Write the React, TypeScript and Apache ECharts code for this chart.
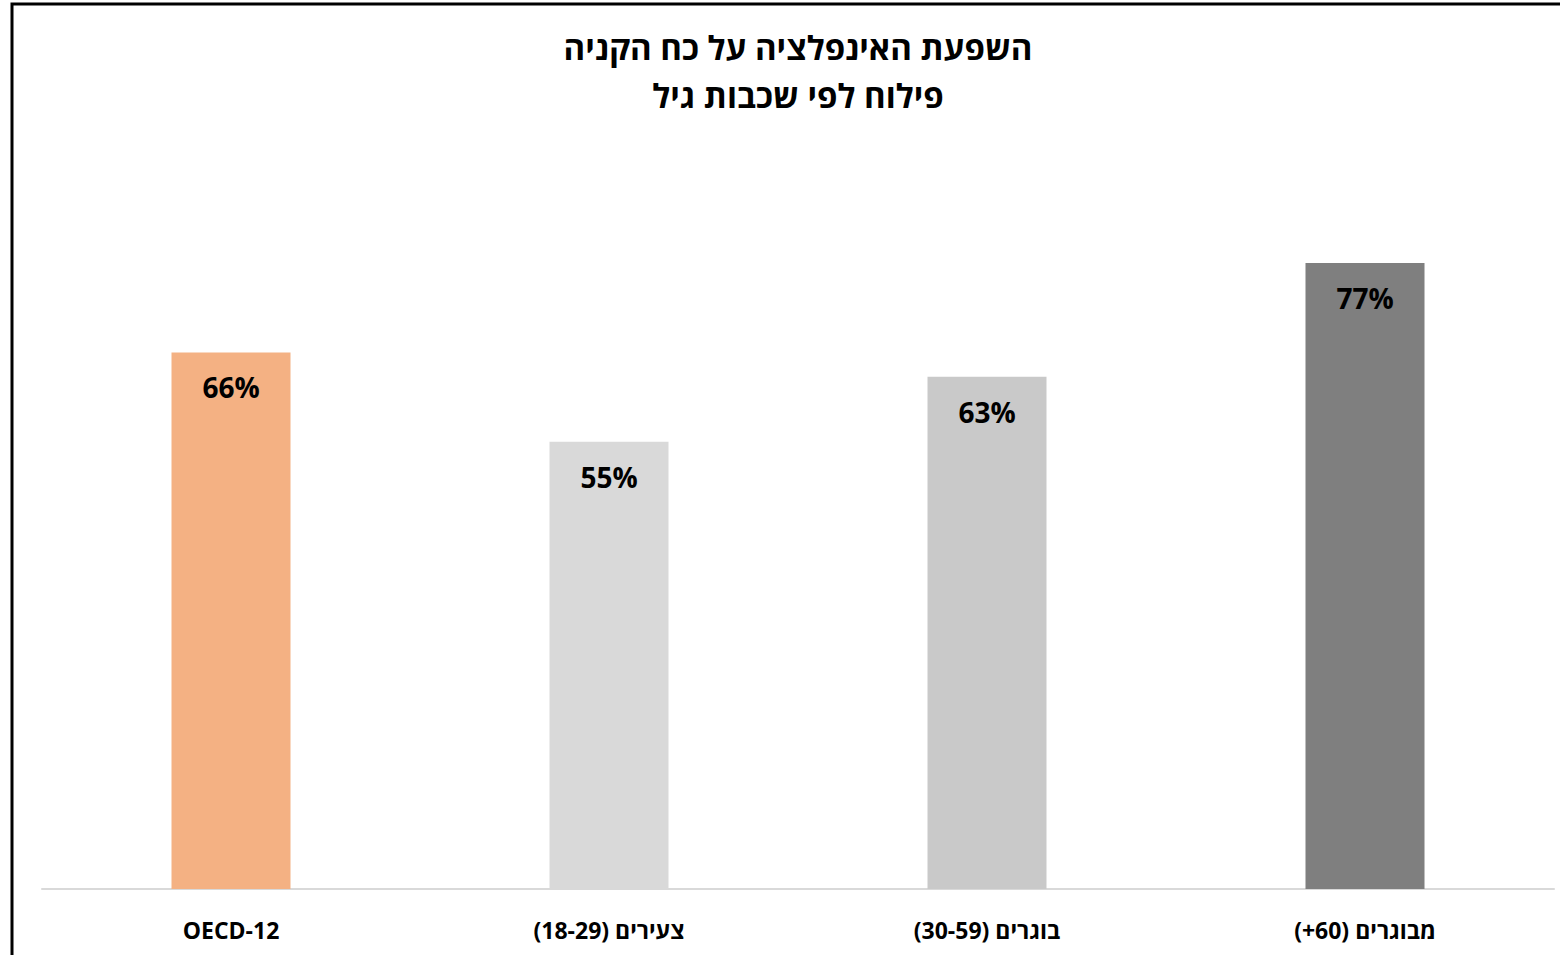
import React, { useEffect, useRef } from "react";
import * as echarts from "echarts";

const categories = ["OECD-12", "(18-29) צעירים", "(30-59) בוגרים", "(+60) מבוגרים"];
const values = [66, 55, 63, 77];
const barColors = ["#F4B183", "#D9D9D9", "#C9C9C9", "#7F7F7F"];
const titleLines = ["השפעת האינפלציה על כח הקניה", "פילוח לפי שכבות גיל"];

const FONT = "'Open Sans', 'Liberation Sans', 'DejaVu Sans', sans-serif";

export default function App() {
  const ref = useRef<HTMLDivElement>(null);
  useEffect(() => {
    document.body.style.margin = "0";
    const chart = echarts.init(ref.current!, null, { renderer: "svg" });
    chart.setOption({
      animation: false,
      backgroundColor: "#fff",
      title: {
        text: titleLines.join("\n"),
        left: 793,
        textAlign: "center",
        top: 18,
        textStyle: {
          fontFamily: FONT,
          fontSize: 33,
          fontWeight: "bold",
          color: "#000",
          lineHeight: 48,
        },
      },
      graphic: [
        {
          type: "rect",
          shape: { x: 12, y: 4, width: 1600, height: 1000 },
          style: { fill: "none", stroke: "#000", lineWidth: 3 },
          silent: true,
        },
      ],
      grid: { left: 42, right: 6, top: 76, bottom: 66, containLabel: false },
      xAxis: {
        type: "category",
        data: categories,
        axisLine: { show: true, lineStyle: { color: "#D9D9D9", width: 2 } },
        axisTick: { show: false },
        axisLabel: {
          fontFamily: FONT,
          fontSize: 23,
          fontWeight: "bold",
          color: "#000",
          margin: 29,
        },
      },
      yAxis: {
        type: "value",
        min: 0,
        max: 100,
        show: false,
        splitLine: { show: false },
      },
      series: [
        {
          type: "bar",
          barWidth: 119,
          data: values.map((v, i) => ({ value: v, itemStyle: { color: barColors[i] } })),
          label: {
            show: true,
            position: "insideTop",
            distance: 21,
            formatter: "{c}%",
            fontFamily: FONT,
            fontSize: 28,
            fontWeight: "bold",
            color: "#000",
          },
        },
      ],
    });
    return () => chart.dispose();
  }, []);
  return <div ref={ref} style={{ width: 1560, height: 955 }} />;
}
